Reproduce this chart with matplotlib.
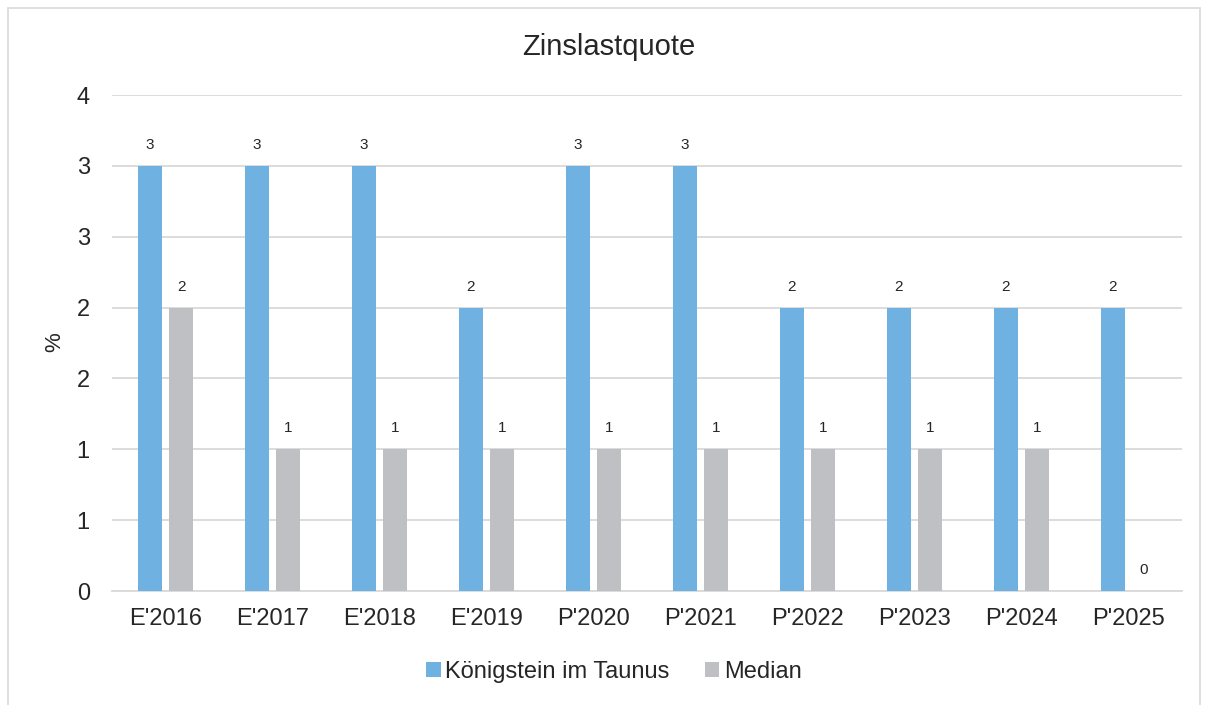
import matplotlib
matplotlib.use("Agg")
import matplotlib.pyplot as plt
from matplotlib.patches import Rectangle
import numpy as np
import math

plt.rcParams['font.family'] = ['Liberation Sans', 'DejaVu Sans']

categories = ["E'2016", "E'2017", "E'2018", "E'2019", "P'2020", "P'2021", "P'2022", "P'2023", "P'2024", "P'2025"]
koenigstein = [3.0, 3.0, 3.0, 2.0, 3.0, 3.0, 2.0, 2.0, 2.0, 2.0]
median = [2.0, 1.0, 1.0, 1.0, 1.0, 1.0, 1.0, 1.0, 1.0, 0.0]
yticks = [0, 0.5, 1, 1.5, 2, 2.5, 3, 3.5]

blue = '#6FB2E2'
gray = '#BFC0C4'
txt = '#262626'

def rnd(v):
    return str(int(math.floor(v + 0.5)))

W, H = 1210, 705
fig = plt.figure(figsize=(W/100, H/100), dpi=100)
# outer chart border
fig.patches.append(Rectangle((8/W, -0.01), (1200-8)/W, (705-8)/H + 0.01, transform=fig.transFigure,
                             fill=False, edgecolor='#D9D9D9', linewidth=1.2))

ax = fig.add_axes([112/W, (705-591)/H, (1182-112)/W, (591-95)/H])
x = np.arange(len(categories))
bw = 0.224
off = 0.145
b1 = ax.bar(x - off, koenigstein, bw, color=blue, label='Königstein im Taunus', zorder=3)
b2 = ax.bar(x + off, median, bw, color=gray, label='Median', zorder=3)

for xi, v in zip(x - off, koenigstein):
    ax.annotate(rnd(v), (xi, v), xytext=(0, 15), textcoords='offset points',
                ha='center', va='center', fontsize=11, color=txt)
for xi, v in zip(x + off, median):
    ax.annotate(rnd(v), (xi, v), xytext=(0, 15), textcoords='offset points',
                ha='center', va='center', fontsize=11, color=txt)

ax.set_xlim(-0.5, len(categories) - 0.5)
ax.set_ylim(0, 3.5)
ax.set_yticks(yticks)
ax.set_yticklabels([rnd(v) for v in yticks])
ax.set_xticks(x)
ax.set_xticklabels(categories)
ax.tick_params(axis='both', length=0, labelsize=17, colors=txt)
ax.tick_params(axis='y', pad=16)
ax.tick_params(axis='x', pad=12)
ax.grid(axis='y', color='#D9D9D9', linewidth=1.3, zorder=0)
for s in ['top', 'right', 'left']:
    ax.spines[s].set_visible(False)
ax.spines['bottom'].set_color('#D9D9D9')
ax.spines['bottom'].set_linewidth(1.3)

fig.text(55/W, 1 - 342/H, '%', rotation=90, ha='center', va='center', fontsize=16, color=txt)

fig.text(609/W, 1 - 47/H, 'Zinslastquote', ha='center', va='center', fontsize=21, color=txt)

fig.legend(handles=[b1, b2], loc='center', bbox_to_anchor=(614/W, 1 - 672/H), ncol=2, frameon=False,
           fontsize=17, handlelength=0.6, handleheight=0.6, handletextpad=0.2, columnspacing=1.5,
           labelcolor=txt)

fig.savefig('out.png', dpi=100)
